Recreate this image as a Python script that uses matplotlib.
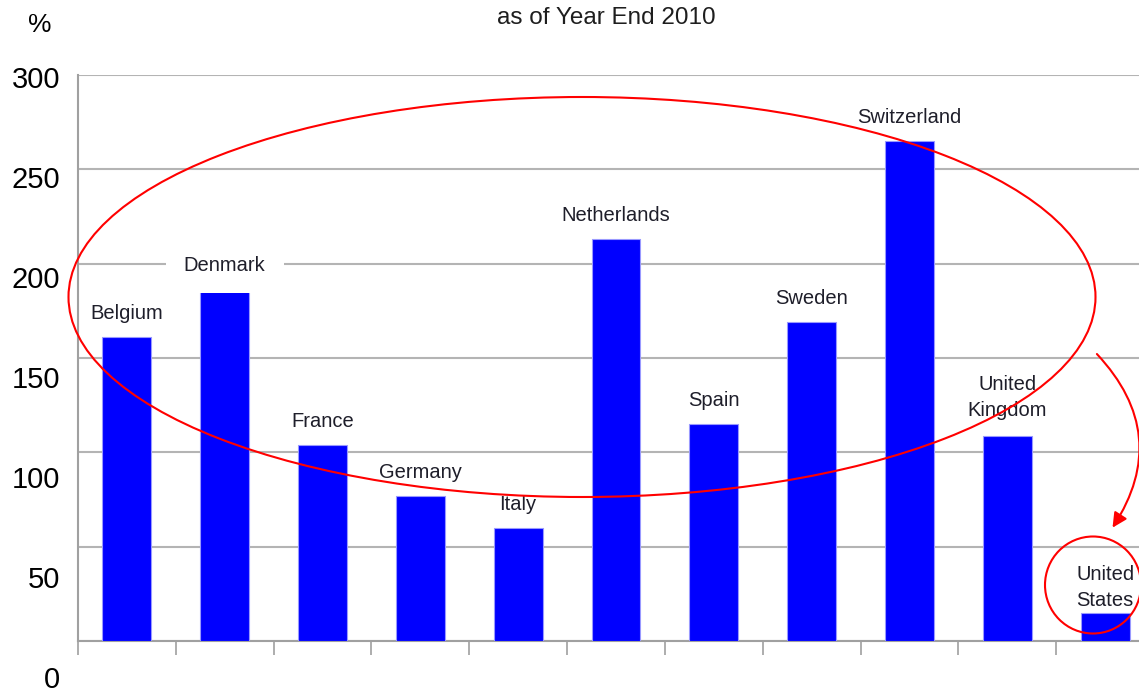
import matplotlib
matplotlib.use('Agg')
import matplotlib.pyplot as plt
from matplotlib.patches import Ellipse, FancyArrowPatch

plt.rcParams['font.family'] = ['Liberation Sans Narrow', 'Liberation Sans', 'DejaVu Sans']

# Values (percent)
countries = ['Belgium', 'Denmark', 'France', 'Germany', 'Italy', 'Netherlands',
             'Spain', 'Sweden', 'Switzerland', 'United\nKingdom', 'United\nStates']
values = [161, 186.5, 104, 77, 60, 213, 115, 169, 265, 108.5, 15]
yticks = [0, 50, 100, 150, 200, 250, 300]

W, H = 1139, 693
fig = plt.figure(figsize=(W / 100, H / 100), dpi=100)
ax = fig.add_axes([78 / W, 1 - 641 / H, 1076 / W, (641 - 75) / H])

x = list(range(len(countries)))
ax.bar(x, values, width=0.5, color='#0000ff', edgecolor='#9999ff', linewidth=0.8, zorder=3)

ax.set_xlim(-0.5, len(countries) - 0.5)
ax.set_ylim(0, 300)
ax.set_yticks(yticks)
ax.yaxis.grid(True, color='#b4b4b4', linewidth=1.5, zorder=0)
ax.tick_params(axis='y', length=0, labelleft=False)
ax.set_xticks([i - 0.5 for i in range(len(countries) + 1)])
ax.tick_params(axis='x', length=10, width=1.2, color='#a0a0a0', labelbottom=False)
for s in ['top', 'right']:
    ax.spines[s].set_visible(False)
for s in ['left', 'bottom']:
    ax.spines[s].set_color('#a0a0a0')
    ax.spines[s].set_linewidth(1.5)

# country labels above bars
for i, (name, v) in enumerate(zip(countries, values)):
    off = 2 if i == len(countries) - 1 else 10
    if name.startswith('United\nK'):
        off = 12
    kw = {}
    if name == 'Denmark':
        kw['bbox'] = dict(boxstyle='square,pad=0.9', fc='white', ec='none')
    ax.annotate(name, (i, v), xytext=(0, off), textcoords='offset points',
                ha='center', va='bottom', fontsize=14.5, color='#1e1e2a',
                linespacing=1.45, zorder=4, **kw)

# y labels (drawn slightly off the gridlines, as in the source image)
for v in yticks:
    fig.text(60 / W, 1 - (680 - 2 * v) / H, str(v), ha='right', va='center',
             fontsize=21, color='black')

fig.text(40 / W, 1 - 25 / H, '%', ha='center', va='center', fontsize=19)
fig.text(606 / W, 1 - 18 / H, 'as of Year End 2010', ha='center', va='center',
         fontsize=17.5, color='#1e1e1e')

# red annotations
tf = fig.transFigure
fig.patches.append(Ellipse((582 / W, 1 - 297 / H), 1027 / W, 400 / H,
                           transform=tf, fill=False, ec='red', lw=1.5))
fig.patches.append(Ellipse((1093 / W, 1 - 585 / H), 96 / W, 97 / H,
                           transform=tf, fill=False, ec='red', lw=1.5))
fig.patches.append(FancyArrowPatch((1095 / W, 1 - 352 / H), (1111 / W, 1 - 530 / H),
                                   transform=tf, connectionstyle='arc3,rad=-0.4',
                                   arrowstyle='-|>', mutation_scale=22,
                                   color='red', lw=1.5))

fig.savefig('out.png', dpi=100)
